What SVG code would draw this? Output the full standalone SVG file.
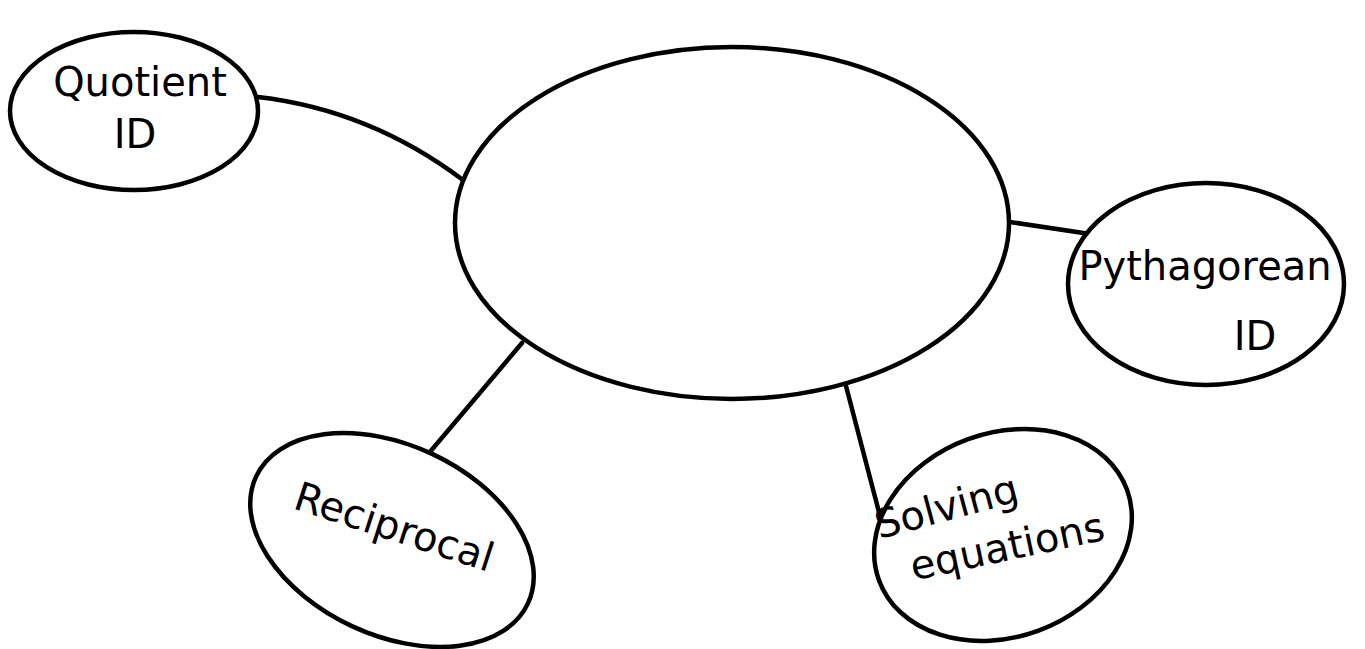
<svg xmlns="http://www.w3.org/2000/svg" width="1365" height="649" viewBox="0 0 1365 649">
<style>
.n{fill:#fff;stroke:#000;stroke-width:4.5}
.c{fill:none;stroke:#000;stroke-width:4.5;stroke-linecap:round}
.t{font-family:"Comic Sans MS","DejaVu Sans",sans-serif;font-size:40px;fill:#000;text-anchor:middle}
</style>
<rect width="1365" height="649" fill="#fff"/>
<g id="connectors">
<path class="c" d="M258 97 Q370 110 463 180"/>
<path class="c" d="M1010 222 L1090 234"/>
<path class="c" d="M522 343 L413 472"/>
<path class="c" d="M846 386 L880 516"/>
</g>
<g id="center"><ellipse class="n" cx="732" cy="223" rx="277" ry="176"/></g>
<g id="quotient">
<ellipse class="n" cx="134" cy="111" rx="124" ry="79"/>
<text class="t" x="140" y="96">Quotient</text>
<text class="t" x="135" y="148">ID</text>
</g>
<g id="pythagorean">
<ellipse class="n" cx="1206" cy="284" rx="138" ry="101"/>
<text class="t" x="1205" y="280">Pythagorean</text>
<text class="t" x="1255" y="350">ID</text>
</g>
<g id="reciprocal">
<ellipse class="n" cx="392" cy="540" rx="150" ry="95" transform="rotate(25 392 540)"/>
<text class="t" transform="translate(390 540) rotate(18)">Reciprocal</text>
</g>
<g id="solving">
<ellipse class="n" cx="1003" cy="535" rx="132" ry="102" transform="rotate(-20 1003 535)"/>
<text class="t" transform="translate(950 520) rotate(-15)">Solving</text>
<text class="t" transform="translate(1010 560) rotate(-12)">equations</text>
</g>
</svg>
